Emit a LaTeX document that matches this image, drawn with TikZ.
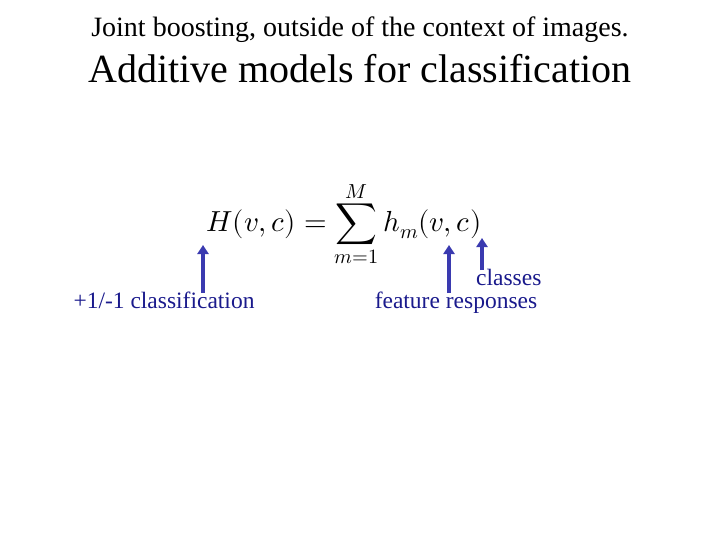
\documentclass[tikz,border=0pt]{standalone}
\usepackage{unicode-math}
\setmainfont{Liberation Serif}
\setmathfont{Latin Modern Math}
\usetikzlibrary{arrows.meta}
\definecolor{arr}{HTML}{3A3AB0}
\definecolor{lab}{HTML}{1A1A8C}
\begin{document}
\begin{tikzpicture}[x=1pt,y=-1pt,
  lbl/.style={text=lab,font=\fontsize{23.5}{26}\selectfont,inner sep=0,anchor=base},
  ar/.style={arr,line width=3.5pt,-{Triangle[length=9pt,width=11pt]}}]
\useasboundingbox (0,0) rectangle (720,540);
\node (t1) [anchor=base,inner sep=0,font=\fontsize{28}{32}\selectfont] at (360,37) {Joint boosting, outside of the context of images.};
\node (t2) [anchor=base,inner sep=0,font=\fontsize{40}{46}\selectfont] at (360,83) {Additive models for classification};
\node (eq) [inner sep=0,font=\fontsize{29}{34}\selectfont] at (344,224) {$H(v,c)=\displaystyle\sum_{m=1}^{M}h_m(v,c)$};
\node (l1) [lbl] at (164,308) {+1/-1 classification};
\node (l2) [lbl,anchor=base west] at (476,285) {classes};
\node (l3) [lbl] at (456,308) {feature responses};
\coordinate (h1) at (203,293); \coordinate (h2) at (203,245);
\coordinate (v1) at (449,293); \coordinate (v2) at (449,245);
\coordinate (c1) at (482,270); \coordinate (c2) at (482,238);
\draw[ar] (h1) -- (h2);
\draw[ar] (v1) -- (v2);
\draw[ar] (c1) -- (c2);
\end{tikzpicture}
\end{document}
